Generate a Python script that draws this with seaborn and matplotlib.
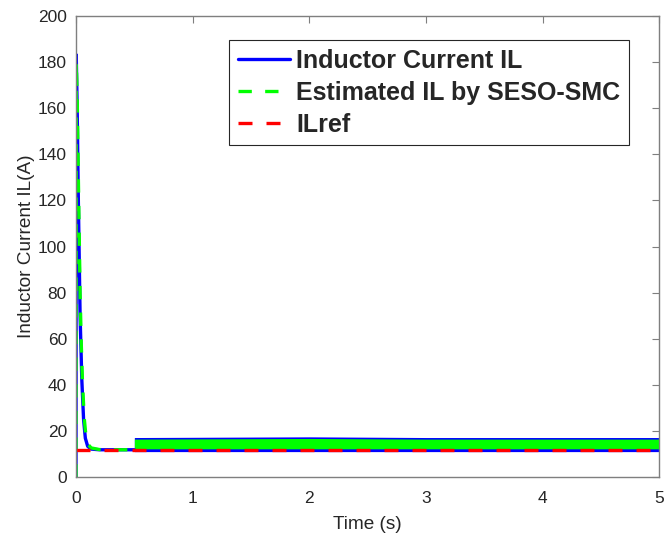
import numpy as np
import pandas as pd
import seaborn as sns
import matplotlib.pyplot as plt

# transient part (start-up spike)
t_start = [0, 0.002, 0.01, 0.02, 0.035, 0.05, 0.065, 0.08, 0.1, 0.13, 0.2, 0.3, 0.4, 0.5]
il_start = [0, 183, 160, 120, 70, 42, 25, 17, 13.5, 12.3, 12.0, 12.0, 12.0, 12.0]
t_est = [0, 0.002, 0.01, 0.02, 0.035, 0.045, 0.055, 0.07, 0.085, 0.1, 0.13, 0.2, 0.3, 0.4, 0.5]
est_start = [0, 180, 165, 130, 80, 58, 42, 26, 18, 14.5, 12.8, 12.1, 12.0, 12.0, 12.0]

# chattering band after t = 0.5 s (envelopes)
t_band = [0.5, 1.0, 2.0, 3.0, 4.0, 5.0]
il_hi = [17.3, 17.4, 17.6, 17.3, 17.3, 17.3]
il_lo = [11.2, 11.2, 11.2, 11.2, 11.2, 11.2]
est_hi = [16.6, 16.7, 16.9, 16.6, 16.6, 16.6]
est_lo = [12.4, 12.4, 12.4, 12.4, 12.4, 12.4]

t_ref = [0, 5]
il_ref = [12, 12]

sns.set_theme(style="white")
plt.rcParams['font.family'] = ['Liberation Sans', 'DejaVu Sans']
plt.rcParams['text.color'] = '#262626'
plt.rcParams['axes.labelcolor'] = '#262626'

fig = plt.figure(figsize=(6.65, 5.35), dpi=100)
ax = fig.add_axes([0.1143, 0.1075, 0.8774, 0.8635])

BLUE = '#0000ff'
GREEN = '#00ff00'
RED = '#ff0000'

df_il = pd.DataFrame({'t': t_start, 'v': il_start})
df_est = pd.DataFrame({'t': t_est, 'v': est_start})
df_ref = pd.DataFrame({'t': t_ref, 'v': il_ref})

sns.lineplot(data=df_il, x='t', y='v', ax=ax, color=BLUE, lw=2.4,
             label='Inductor Current IL', sort=False)
sns.lineplot(data=df_est, x='t', y='v', ax=ax, color=GREEN, lw=2.4,
             label='Estimated IL by SESO-SMC', sort=False)
ax.lines[-1].set_dashes((4, 4))
ax.fill_between(t_band, il_lo, il_hi, color=BLUE, lw=0)
ax.fill_between(t_band, est_lo, est_hi, color=GREEN, lw=0)
sns.lineplot(data=df_ref, x='t', y='v', ax=ax, color=RED, lw=2.4,
             label='ILref', sort=False)
ax.lines[-1].set_dashes((4.2, 4.2))

ax.set_xlim(0, 5)
ax.set_ylim(0, 200)
ax.set_xticks(range(0, 6))
ax.set_yticks(range(0, 201, 20))
ax.set_xlabel('Time (s)', fontsize=13.7, labelpad=7)
ax.set_ylabel('Inductor Current IL(A)', fontsize=13.7, labelpad=2.5)
ax.tick_params(direction='in', length=5, width=0.8, labelsize=12.5,
               top=True, right=True, colors='#7f7f7f', labelcolor='#262626')
ax.tick_params(axis='x', pad=10)
ax.tick_params(axis='y', pad=6.5)
for s in ax.spines.values():
    s.set_color('#7f7f7f')
    s.set_linewidth(1.0)

leg = ax.legend(loc='upper right', bbox_to_anchor=(0.948, 0.947),
                prop={'weight': 'bold', 'size': 18}, handlelength=2.1,
                handletextpad=0.25, labelspacing=0.32, borderpad=0.35,
                borderaxespad=0, fancybox=False, framealpha=1,
                edgecolor='#262626')
leg.get_frame().set_linewidth(0.8)

fig.savefig('out.png', dpi=100)
